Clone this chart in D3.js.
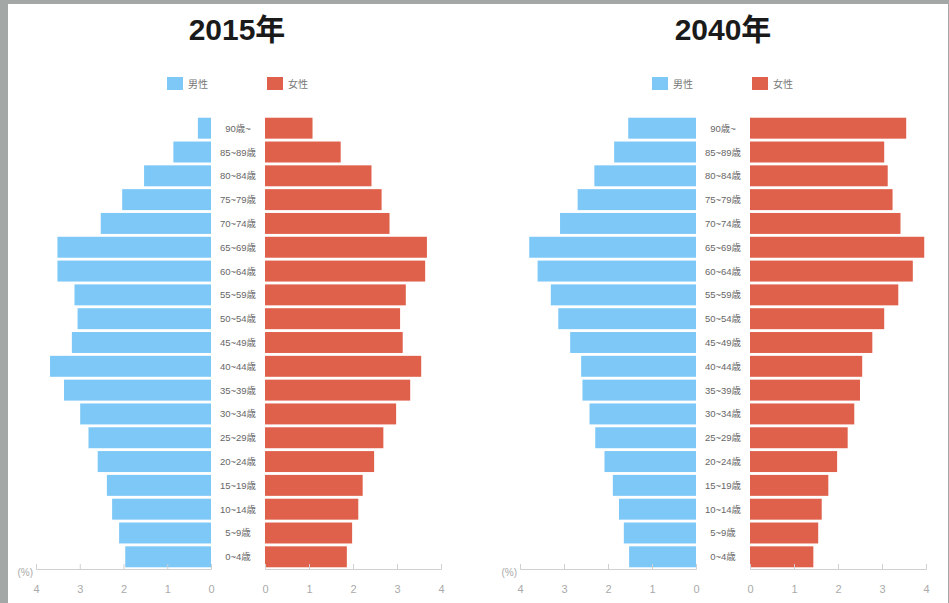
<!DOCTYPE html>
<html><head><meta charset="utf-8">
<script src="https://cdn.jsdelivr.net/npm/d3@7"></script>
<style>
body{margin:0;padding:0;background:#a3a8a6;}
svg{display:block;}
</style></head>
<body>
<script>
const ages = ["90歳~","85~89歳","80~84歳","75~79歳","70~74歳","65~69歳","60~64歳","55~59歳","50~54歳","45~49歳","40~44歳","35~39歳","30~34歳","25~29歳","20~24歳","15~19歳","10~14歳","5~9歳","0~4歳"];
const male2015   = [0.30,0.86,1.53,2.03,2.52,3.51,3.51,3.12,3.05,3.18,3.68,3.36,2.99,2.80,2.59,2.38,2.26,2.10,1.96];
const female2015 = [1.08,1.72,2.42,2.65,2.83,3.68,3.64,3.20,3.07,3.13,3.55,3.30,2.98,2.69,2.48,2.22,2.12,1.98,1.86];
const male2040   = [1.54,1.86,2.31,2.69,3.09,3.79,3.60,3.30,3.13,2.86,2.61,2.58,2.42,2.29,2.08,1.89,1.75,1.64,1.52];
const female2040 = [3.55,3.05,3.13,3.24,3.42,3.96,3.70,3.37,3.05,2.78,2.55,2.50,2.37,2.22,1.98,1.78,1.63,1.55,1.44];
const titles = ["2015年","2040年"];
const legendLabels = ["男性","女性"];
const ticks = [0,1,2,3,4];

const W=949,H=603;
const svg=d3.select("body").append("svg").attr("width",W).attr("height",H);
svg.append("rect").attr("x",0).attr("y",0).attr("width",W).attr("height",H).attr("fill","#a3a8a6");
svg.append("rect").attr("x",8).attr("y",4).attr("width",940).attr("height",H-4).attr("fill","#ffffff");

const BLUE="#7dc8f7", RED="#e0614b";
const font="'Liberation Sans','Noto Sans CJK JP',sans-serif";

const panels=[
  {title:titles[0],male:male2015,female:female2015,lx:[211,36],rx:[265,441],cx:238,tx:237},
  {title:titles[1],male:male2040,female:female2040,lx:[696,520],rx:[750,926],cx:723,tx:723}
];
const y=d3.scaleBand().domain(ages).range([117,568]).paddingInner(0.12).paddingOuter(0.03);

panels.forEach(p=>{
  const g=svg.append("g");
  const xl=d3.scaleLinear().domain([0,4]).range(p.lx);
  const xr=d3.scaleLinear().domain([0,4]).range(p.rx);
  g.append("text").attr("x",p.tx).attr("y",40).attr("text-anchor","middle")
    .attr("font-family",font).attr("font-weight","bold").attr("font-size",30).attr("fill","#1a1a1a").text(p.title);
  // legend
  const lg=[{c:BLUE,t:legendLabels[0],x:p.cx-71},{c:RED,t:legendLabels[1],x:p.cx+29}];
  lg.forEach(d=>{
    g.append("rect").attr("x",d.x).attr("y",77).attr("width",16).attr("height",13).attr("fill",d.c);
    g.append("text").attr("x",d.x+21).attr("y",87.5).attr("font-family",font).attr("font-size",10).attr("fill","#777").text(d.t);
  });
  // bars
  g.selectAll(".m").data(ages).enter().append("rect")
    .attr("x",(d,i)=>xl(p.male[i])).attr("y",d=>y(d))
    .attr("width",(d,i)=>xl(0)-xl(p.male[i])).attr("height",y.bandwidth()).attr("fill",BLUE);
  g.selectAll(".f").data(ages).enter().append("rect")
    .attr("x",xr(0)).attr("y",d=>y(d))
    .attr("width",(d,i)=>xr(p.female[i])-xr(0)).attr("height",y.bandwidth()).attr("fill",RED);
  g.selectAll(".a").data(ages).enter().append("text")
    .attr("x",p.cx).attr("y",d=>y(d)+y.bandwidth()/2+3.5).attr("text-anchor","middle")
    .attr("font-family",font).attr("font-size",9.5).attr("fill","#666").text(d=>d);
  // axes
  const axY=569;
  [xl,xr].forEach(sc=>{
    const ax=g.append("g").attr("transform",`translate(0,${axY})`)
      .call(d3.axisBottom(sc).tickValues(ticks).tickSize(-5).tickPadding(14).tickFormat(d3.format("d")));
    ax.select(".domain").attr("stroke","#d0d0d0");
    ax.selectAll(".tick line").attr("stroke","#d0d0d0");
    ax.selectAll(".tick text").attr("font-family",font).attr("font-size",11).attr("fill","#aaa").attr("dy","0.9em");
  });
  g.append("text").attr("x",p.lx[1]-3).attr("y",axY+7).attr("text-anchor","end")
    .attr("font-family",font).attr("font-size",10).attr("fill","#aaa").text("(%)");
});
</script>
</body></html>
